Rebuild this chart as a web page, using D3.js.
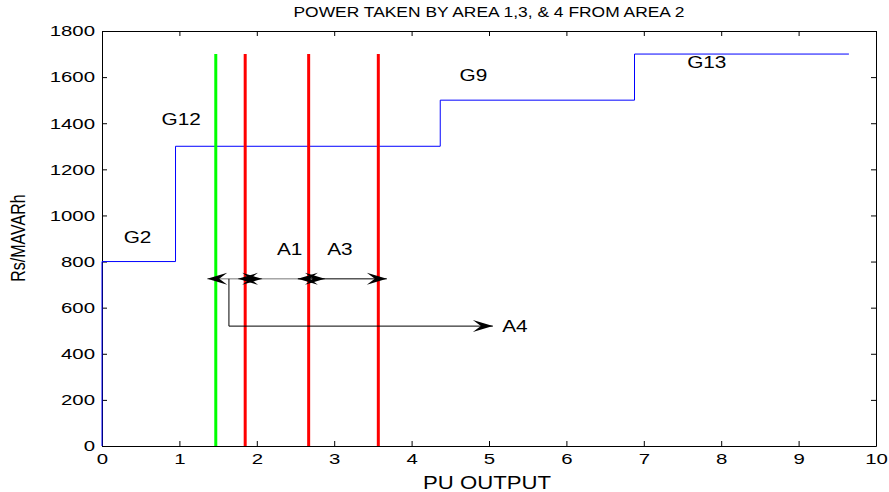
<!DOCTYPE html>
<html>
<head>
<meta charset="utf-8">
<script src="https://cdn.jsdelivr.net/npm/d3@7"></script>
<style>
  body { margin: 0; background: #fff; }
  text { font-family: "Liberation Sans", Arial, sans-serif; fill: #000; }
</style>
</head>
<body>
<div id="chart"></div>
<script>
// merit order step curve (PU output vs Rs/MAVARh)
var stepX = [0, 0, 0.95, 0.95, 4.37, 4.37, 6.88, 6.88, 9.65];
var stepY = [0, 800, 800, 1300, 1300, 1500, 1500, 1700, 1700];

// area demand limits
var greenX = [1.47];
var redX = [1.85, 2.67, 3.57];
var limitTop = 1700;

// generator labels
var genNames = ["G2", "G12", "G9", "G13"];
var genX = [0.28, 0.77, 4.62, 7.56];
var genY = [880, 1392, 1583, 1640];

// power transfer arrows
var arrowY = 725;
var arrowFrom = [1.36, 1.757, 2.53];
var arrowTo = [2.07, 2.88, 3.68];
var areaNames = ["A1", "A3"];
var areaX = [2.26, 2.91];
var areaY = [828, 828];
var a4X = [1.64, 1.64, 5.05];
var a4Y = [725, 520, 520];

var xTicks = d3.range(0, 11, 1);
var yTicks = d3.range(0, 1801, 200);

var width = 889, height = 492,
    margin = {top: 31, right: 13, bottom: 46, left: 102};

var x = d3.scaleLinear().domain([0, 10]).range([0, width - margin.left - margin.right]);
var y = d3.scaleLinear().domain([0, 1800]).range([height - margin.top - margin.bottom, 0]);
var w = x.range()[1], h = y.range()[0];

var svg = d3.select("#chart").append("svg")
    .attr("width", width).attr("height", height);
svg.append("rect").attr("width", width).attr("height", height).attr("fill", "#fff");

var g = svg.append("g")
    .attr("transform", "translate(" + margin.left + "," + margin.top + ")");

// text in the reference is stretched sideways
function wideText(sel, scale) {
  sel.each(function() {
    var t = d3.select(this);
    t.attr("x", (+t.attr("x") || 0) / scale).attr("transform", "scale(" + scale + ",1)");
  });
}

// axes, matlab style box with inward ticks
var fs = "15px", fmt = d3.format("d");
g.append("g").attr("transform", "translate(0," + h + ")")
  .call(d3.axisBottom(x).tickValues(xTicks).tickFormat(fmt).tickSizeInner(-5).tickSizeOuter(0).tickPadding(7))
  .call(function(a) { a.selectAll("text").style("font-size", fs).call(wideText, 1.36); });
g.append("g")
  .call(d3.axisLeft(y).tickValues(yTicks).tickFormat(fmt).tickSizeInner(-5).tickSizeOuter(0).tickPadding(7))
  .call(function(a) { a.selectAll("text").style("font-size", fs).call(wideText, 1.36); });
g.append("g")
  .call(d3.axisTop(x).tickValues(xTicks).tickSizeInner(-5).tickSizeOuter(0).tickFormat(""));
g.append("g").attr("transform", "translate(" + w + ",0)")
  .call(d3.axisRight(y).tickValues(yTicks).tickSizeInner(-5).tickSizeOuter(0).tickFormat(""));
g.selectAll(".domain").attr("stroke", "#000");
g.selectAll(".tick line").attr("stroke", "#000");
g.selectAll(".tick text").attr("fill", "#000");

// step curve
var line = d3.line().x(function(d) { return x(d[0]); }).y(function(d) { return y(d[1]); });
g.append("path")
  .datum(d3.zip(stepX, stepY))
  .attr("fill", "none")
  .attr("stroke", "#0000ff")
  .attr("stroke-width", 1)
  .attr("d", line);

// limit lines
g.selectAll("line.green").data(greenX).enter().append("line")
  .attr("class", "green")
  .attr("x1", x).attr("x2", x)
  .attr("y1", y(0)).attr("y2", y(limitTop))
  .attr("stroke", "#00ff00").attr("stroke-width", 3);
g.selectAll("line.red").data(redX).enter().append("line")
  .attr("class", "red")
  .attr("x1", x).attr("x2", x)
  .attr("y1", y(0)).attr("y2", y(limitTop))
  .attr("stroke", "#ff0000").attr("stroke-width", 3);

// arrows
function arrowHead(px, py, dir) {
  var L = 20, W = 6;
  return "M" + px + "," + py +
    "L" + (px - dir * L) + "," + (py - W) +
    "L" + (px - dir * 0.6 * L) + "," + py +
    "L" + (px - dir * L) + "," + (py + W) + "Z";
}
var ay = y(arrowY);
arrowFrom.forEach(function(d, i) {
  var col = i < 2 ? "#777" : "#000";
  g.append("line")
    .attr("x1", x(d)).attr("x2", x(arrowTo[i]))
    .attr("y1", ay).attr("y2", ay)
    .attr("stroke", col).attr("stroke-width", 1);
});
arrowFrom.forEach(function(d, i) {
  g.append("path").attr("d", arrowHead(x(d), ay, -1)).attr("fill", "#000");
  g.append("path").attr("d", arrowHead(x(arrowTo[i]), ay, 1)).attr("fill", "#000");
});
g.append("path")
  .datum(d3.zip(a4X, a4Y))
  .attr("fill", "none").attr("stroke", "#000").attr("stroke-width", 1)
  .attr("d", line);
g.append("path").attr("d", arrowHead(x(a4X[2]), y(a4Y[2]), 1)).attr("fill", "#000");

// labels
function label(txt, px, py, size) {
  g.append("text")
    .attr("x", px).attr("y", py)
    .style("font-size", size)
    .text(txt)
    .call(wideText, 1.3);
}
genNames.forEach(function(d, i) { label(d, x(genX[i]), y(genY[i]), "16px"); });
areaNames.forEach(function(d, i) { label(d, x(areaX[i]), y(areaY[i]), "16px"); });
label("A4", x(5.17), y(494), "16px");

// title and axis titles
svg.append("g").attr("transform", "translate(489,17) scale(1.245,1)")
  .append("text").attr("text-anchor", "middle").style("font-size", "14px")
  .text("POWER TAKEN BY AREA 1,3, & 4 FROM AREA 2");
svg.append("g").attr("transform", "translate(487,489) scale(1.23,1)")
  .append("text").attr("text-anchor", "middle").style("font-size", "18px")
  .text("PU OUTPUT");
svg.append("g").attr("transform", "translate(25,238) scale(1.24,1)")
  .append("text").attr("text-anchor", "middle").attr("transform", "rotate(-90)")
  .style("font-size", "16px")
  .text("Rs/MAVARh");
</script>
</body>
</html>
